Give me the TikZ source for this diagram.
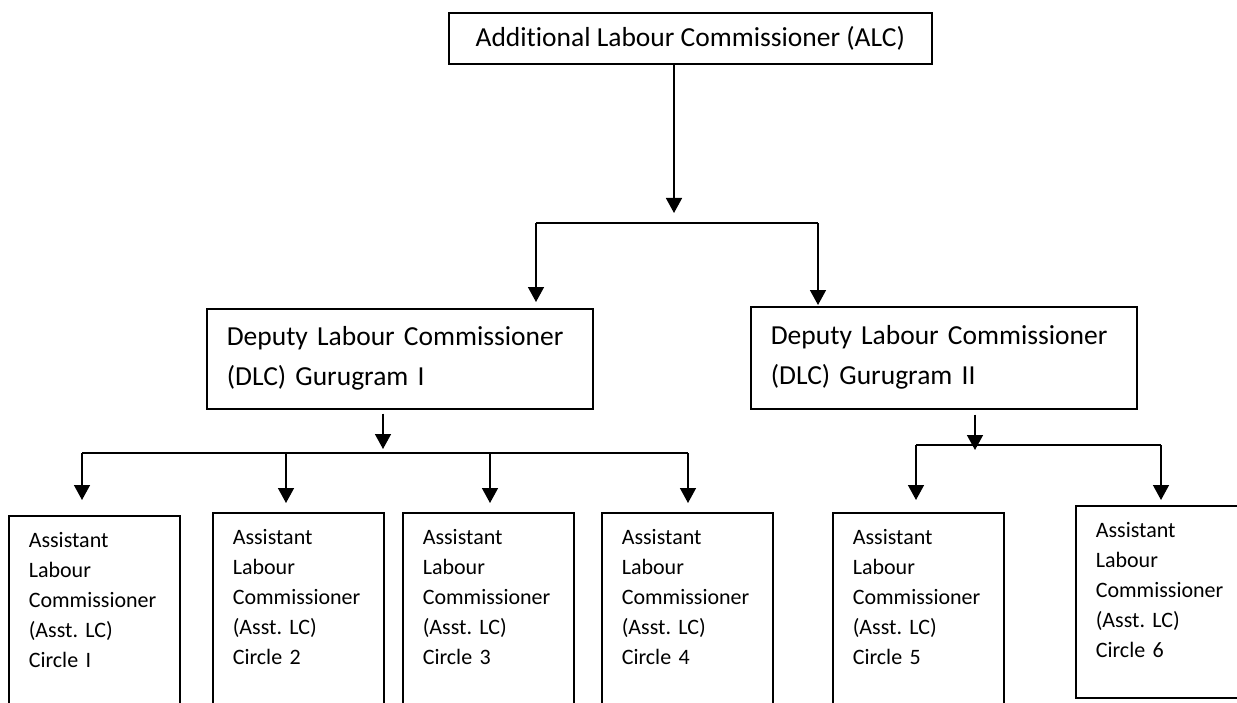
\documentclass[tikz,border=0pt]{standalone}
\usepackage{fontspec}
\setmainfont{Carlito}[Ligatures=NoCommon]
\frenchspacing
\usetikzlibrary{arrows.meta}
\begin{document}
\begin{tikzpicture}
[x=1bp,y=-1bp,
  topdecorate/.style={draw,line width=1.6bp,anchor=north west,minimum width=483bp,minimum height=51bp,font=\fontsize{27.5bp}{40bp}\selectfont},
  dlcdecorate/.style={draw,line width=1.6bp,anchor=north west,inner xsep=20bp,text width=346bp,align=left,minimum height=100bp,font=\fontsize{27.5bp}{40bp}\selectfont},
  alcdecorate/.style={draw,line width=1.6bp,anchor=north west,inner xsep=20bp,inner ysep=0pt,text width=131bp,align=left,text height=32bp,text depth=160bp,font=\fontsize{22bp}{30bp}\selectfont},
  arrowdecorate/.style={-{Triangle[width=16bp,length=15bp]},line width=1.5bp},
  linedecorate/.style={line width=1.5bp}]
\useasboundingbox (0,0) rectangle (1237,703);
\clip (0,0) rectangle (1237,703);
% nodes or boxes
\node (alc) at (448,12) [topdecorate] {Additional Labour Commissioner (ALC)};
\node (dlc1) at (206,308) [dlcdecorate] {Deputy Labour Commissioner\\(DLC) Gurugram I};
\node (dlc2) at (750,306) [dlcdecorate,minimum height=102bp] {Deputy Labour Commissioner\\(DLC) Gurugram II};
\node (c1) at (8,515) [alcdecorate] {Assistant\\Labour\\Commissioner\\(Asst. LC)\\Circle I};
\node (c2) at (212,512) [alcdecorate] {Assistant\\Labour\\Commissioner\\(Asst. LC)\\Circle 2};
\node (c3) at (402,512) [alcdecorate] {Assistant\\Labour\\Commissioner\\(Asst. LC)\\Circle 3};
\node (c4) at (601,512) [alcdecorate] {Assistant\\Labour\\Commissioner\\(Asst. LC)\\Circle 4};
\node (c5) at (832,512) [alcdecorate] {Assistant\\Labour\\Commissioner\\(Asst. LC)\\Circle 5};
\node (c6) at (1075,505) [alcdecorate] {Assistant\\Labour\\Commissioner\\(Asst. LC)\\Circle 6};
% branch points
\coordinate (top) at (674,223);
\coordinate (topl) at (536,223);
\coordinate (topr) at (818,223);
\coordinate (mid1) at (383,453);
\coordinate (d1) at (82,453);
\coordinate (d2) at (286,453);
\coordinate (d3) at (490,453);
\coordinate (d4) at (688,453);
\coordinate (mid2) at (975,445);
\coordinate (d5) at (916,445);
\coordinate (d6) at (1161,445);
% lines and arrows
\path
(top |- alc.south) edge[arrowdecorate,shorten >=10bp] (top)
(topl) edge[linedecorate] (topr)
(topl) edge[arrowdecorate,shorten >=6bp] (topl |- dlc1.north)
(topr) edge[arrowdecorate,shorten >=1bp] (topr |- dlc2.north)
(mid1 |- dlc1.south) edge[arrowdecorate,shorten <=4bp,shorten >=4bp] (mid1)
(d1) edge[linedecorate] (d4)
(d1) edge[arrowdecorate,shorten >=15bp] (d1 |- c1.north)
(d2) edge[arrowdecorate,shorten >=9bp] (d2 |- c2.north)
(d3) edge[arrowdecorate,shorten >=9bp] (d3 |- c3.north)
(d4) edge[arrowdecorate,shorten >=9bp] (d4 |- c4.north)
(mid2 |- dlc2.south) edge[arrowdecorate,shorten <=5bp,shorten >=-5bp] (mid2)
(d5) edge[linedecorate] (d6)
(d5) edge[arrowdecorate,shorten >=12bp] (d5 |- c5.north)
(d6) edge[arrowdecorate,shorten >=5bp] (d6 |- c6.north);
\end{tikzpicture}
\end{document}
